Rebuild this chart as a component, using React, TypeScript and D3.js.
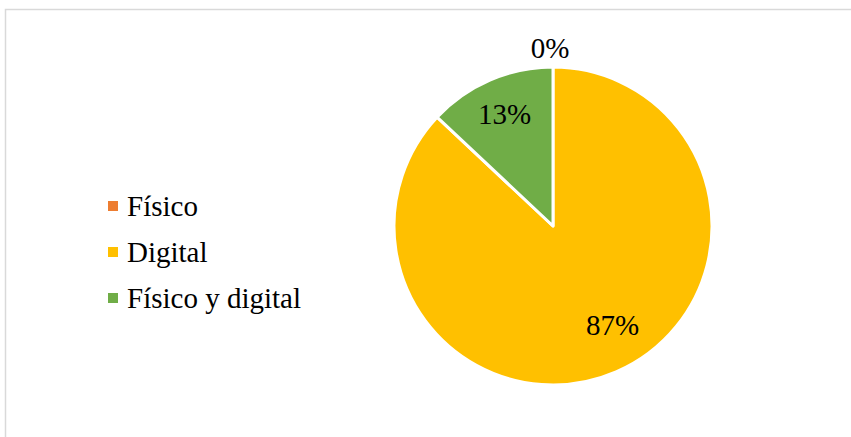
import React from "react";
import * as d3 from "d3";

const categories = ["Físico", "Digital", "Físico y digital"];
const values = [0, 87, 13];
const colors = ["#ED7D31", "#FFC000", "#70AD47"];
const labelRadius = [178, 116, 122];
const labelAngleNudge = [-0.017, -0.13, 0];

const W = 851;
const H = 437;
const cx = 553;
const cy = 226;
const R = 159;
const FONT = "'Liberation Serif', 'Times New Roman', serif";

export default function App() {
  const total = d3.sum(values);
  const pie = d3
    .pie<number>()
    .sort(null)
    .value((d) => d)
    .startAngle(0)
    .endAngle(2 * Math.PI);
  const arcs = pie(values);
  const arc = d3.arc<d3.PieArcDatum<number>>().innerRadius(0).outerRadius(R);
  const legendY = d3.scalePoint<string>().domain(categories).range([216, 308]);

  return (
    <svg
      width={W}
      height={H}
      style={{ position: "absolute", left: 0, top: 0, background: "#fff" }}
    >
      <rect x={5.5} y={9.5} width={W + 10} height={H + 10} fill="#fff" stroke="#d9d9d9" strokeWidth={1.5} />
      <g transform={`translate(${cx},${cy})`}>
        {arcs.map((a, i) => (
          <path key={i} d={arc(a) || ""} fill={colors[i]} stroke="#fff" strokeWidth={3} strokeLinejoin="round" />
        ))}
        {arcs.map((a, i) => {
          const mid = (a.startAngle + a.endAngle) / 2 + labelAngleNudge[i];
          const lr = labelRadius[i];
          const x = lr * Math.sin(mid);
          const y = -lr * Math.cos(mid);
          return (
            <text
              key={i}
              x={x}
              y={y}
              dy="0.33em"
              textAnchor="middle"
              fontFamily={FONT}
              fontSize={29}
              fill="#000"
            >
              {`${Math.round((values[i] / total) * 100)}%`}
            </text>
          );
        })}
      </g>
      <g>
        {categories.map((c, i) => (
          <g key={c}>
            <rect x={108} y={(legendY(c) as number) - 15} width={10} height={10} fill={colors[i]} />
            <text x={127} y={legendY(c)} fontFamily={FONT} fontSize={29} fill="#000">
              {c}
            </text>
          </g>
        ))}
      </g>
    </svg>
  );
}
